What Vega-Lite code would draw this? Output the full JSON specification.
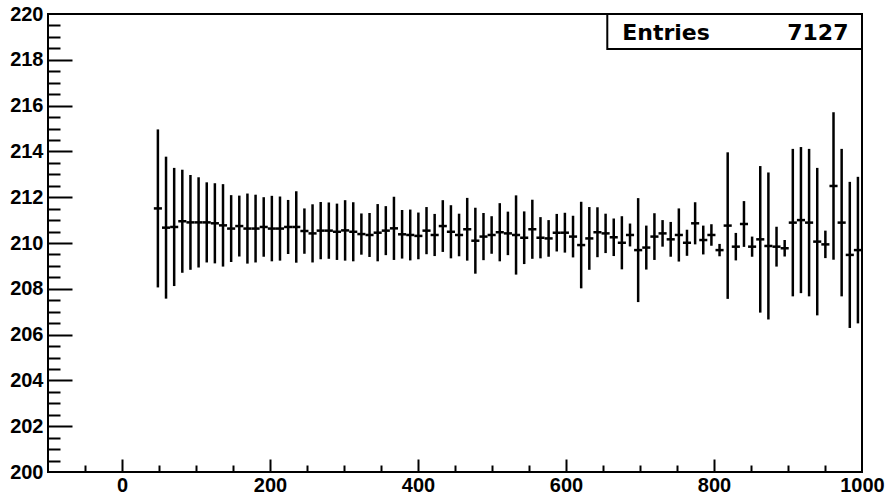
{
  "$schema": "https://vega.github.io/schema/vega-lite/v6.json",
  "width": 814,
  "height": 458,
  "autosize": {"type": "none"},
  "padding": {"left": 48, "top": 14, "right": 23, "bottom": 24},
  "background": "white",
  "config": {
    "view": {"stroke": "black", "strokeWidth": 2},
    "axis": {"grid": false, "domain": false, "labelFont": "Liberation Sans", "labelFontWeight": "bold", "labelFontSize": 20, "labelColor": "black", "tickColor": "black", "tickWidth": 2, "title": null, "format": "d"}
  },
  "data": {"values": [
    {"x": 48.5, "mean": 211.51, "err": 3.45},
    {"x": 59.5, "mean": 210.67, "err": 3.10},
    {"x": 70.5, "mean": 210.70, "err": 2.58},
    {"x": 81.5, "mean": 210.95, "err": 2.25},
    {"x": 92.5, "mean": 210.90, "err": 2.07},
    {"x": 103.5, "mean": 210.90, "err": 1.97},
    {"x": 114.5, "mean": 210.90, "err": 1.75},
    {"x": 125.5, "mean": 210.86, "err": 1.75},
    {"x": 136.5, "mean": 210.77, "err": 1.80},
    {"x": 147.5, "mean": 210.63, "err": 1.46},
    {"x": 158.5, "mean": 210.74, "err": 1.33},
    {"x": 169.5, "mean": 210.63, "err": 1.53},
    {"x": 180.5, "mean": 210.63, "err": 1.48},
    {"x": 191.5, "mean": 210.70, "err": 1.30},
    {"x": 202.5, "mean": 210.63, "err": 1.43},
    {"x": 213.5, "mean": 210.63, "err": 1.40},
    {"x": 224.5, "mean": 210.70, "err": 1.18},
    {"x": 235.5, "mean": 210.70, "err": 1.56},
    {"x": 246.5, "mean": 210.52, "err": 0.99},
    {"x": 257.5, "mean": 210.42, "err": 1.27},
    {"x": 268.5, "mean": 210.54, "err": 1.25},
    {"x": 279.5, "mean": 210.54, "err": 1.23},
    {"x": 290.5, "mean": 210.49, "err": 1.23},
    {"x": 301.5, "mean": 210.55, "err": 1.32},
    {"x": 312.5, "mean": 210.49, "err": 1.29},
    {"x": 323.5, "mean": 210.39, "err": 0.90},
    {"x": 334.5, "mean": 210.35, "err": 0.96},
    {"x": 345.5, "mean": 210.45, "err": 1.25},
    {"x": 356.5, "mean": 210.54, "err": 1.07},
    {"x": 367.5, "mean": 210.64, "err": 1.38},
    {"x": 378.5, "mean": 210.38, "err": 1.06},
    {"x": 389.5, "mean": 210.35, "err": 1.11},
    {"x": 400.5, "mean": 210.31, "err": 1.02},
    {"x": 411.5, "mean": 210.54, "err": 1.03},
    {"x": 422.5, "mean": 210.35, "err": 0.92},
    {"x": 433.5, "mean": 210.74, "err": 1.13},
    {"x": 444.5, "mean": 210.49, "err": 1.16},
    {"x": 455.5, "mean": 210.35, "err": 0.93},
    {"x": 466.5, "mean": 210.60, "err": 1.37},
    {"x": 477.5, "mean": 210.10, "err": 1.44},
    {"x": 488.5, "mean": 210.28, "err": 1.03},
    {"x": 499.5, "mean": 210.35, "err": 0.82},
    {"x": 510.5, "mean": 210.47, "err": 1.27},
    {"x": 521.5, "mean": 210.42, "err": 0.95},
    {"x": 532.5, "mean": 210.35, "err": 1.73},
    {"x": 543.5, "mean": 210.23, "err": 1.15},
    {"x": 554.5, "mean": 210.60, "err": 1.29},
    {"x": 565.5, "mean": 210.23, "err": 0.90},
    {"x": 576.5, "mean": 210.20, "err": 0.80},
    {"x": 587.5, "mean": 210.45, "err": 0.82},
    {"x": 598.5, "mean": 210.45, "err": 0.87},
    {"x": 609.5, "mean": 210.28, "err": 0.91},
    {"x": 620.5, "mean": 209.91, "err": 1.89},
    {"x": 631.5, "mean": 210.20, "err": 1.37},
    {"x": 642.5, "mean": 210.47, "err": 1.09},
    {"x": 653.5, "mean": 210.42, "err": 0.86},
    {"x": 664.5, "mean": 210.25, "err": 0.82},
    {"x": 675.5, "mean": 210.01, "err": 1.16},
    {"x": 686.5, "mean": 210.35, "err": 0.50},
    {"x": 697.5, "mean": 209.69, "err": 2.27},
    {"x": 708.5, "mean": 209.80, "err": 0.96},
    {"x": 719.5, "mean": 210.28, "err": 1.02},
    {"x": 730.5, "mean": 210.42, "err": 0.58},
    {"x": 741.5, "mean": 210.16, "err": 0.76},
    {"x": 752.5, "mean": 210.35, "err": 1.16},
    {"x": 763.5, "mean": 210.01, "err": 0.57},
    {"x": 774.5, "mean": 210.86, "err": 0.92},
    {"x": 785.5, "mean": 210.13, "err": 0.63},
    {"x": 796.5, "mean": 210.35, "err": 0.47},
    {"x": 807.5, "mean": 209.69, "err": 0.27},
    {"x": 818.5, "mean": 210.76, "err": 3.20},
    {"x": 829.5, "mean": 209.84, "err": 0.60},
    {"x": 840.5, "mean": 210.83, "err": 1.00},
    {"x": 851.5, "mean": 209.84, "err": 0.44},
    {"x": 862.5, "mean": 210.16, "err": 3.20},
    {"x": 873.5, "mean": 209.87, "err": 3.21},
    {"x": 884.5, "mean": 209.84, "err": 0.87},
    {"x": 895.5, "mean": 209.77, "err": 0.36},
    {"x": 906.5, "mean": 210.89, "err": 3.22},
    {"x": 917.5, "mean": 211.00, "err": 3.19},
    {"x": 928.5, "mean": 210.89, "err": 3.22},
    {"x": 939.5, "mean": 210.06, "err": 3.22},
    {"x": 950.5, "mean": 209.94, "err": 0.60},
    {"x": 961.5, "mean": 212.49, "err": 3.22},
    {"x": 972.5, "mean": 210.89, "err": 3.22},
    {"x": 983.5, "mean": 209.48, "err": 3.19},
    {"x": 994.5, "mean": 209.69, "err": 3.20}
  ]},
  "layer": [
    {
      "mark": {"type": "errorbar", "ticks": false, "rule": {"strokeWidth": 2.5, "color": "black"}},
      "encoding": {
        "x": {"field": "x", "type": "quantitative", "scale": {"domain": [-100, 1000], "nice": false, "zero": false},
              "axis": {"orient": "bottom", "values": [0, 200, 400, 600, 800, 1000], "ticks": false, "tickSize": 0, "labelPadding": 3, "labelFlush": false, "title": null}},
        "y": {"field": "mean", "type": "quantitative", "scale": {"domain": [200, 220], "nice": false, "zero": false},
              "axis": {"orient": "left", "values": [200, 202, 204, 206, 208, 210, 212, 214, 216, 218, 220], "ticks": false, "tickSize": 0, "labelPadding": 5, "labelFlush": false, "title": null}},
        "yError": {"field": "err"}
      }
    },
    {
      "mark": {"type": "tick", "orient": "horizontal", "size": 8.1, "thickness": 2.5, "color": "black", "opacity": 1},
      "encoding": {
        "x": {"field": "x", "type": "quantitative", "axis": {"orient": "bottom", "values": [0, 200, 400, 600, 800], "labels": false, "tickSize": -13, "title": null}},
        "y": {"field": "mean", "type": "quantitative", "axis": {"orient": "left", "values": [202, 204, 206, 208, 210, 212, 214, 216, 218], "labels": false, "tickSize": -24, "title": null}}
      }
    },
    {
      "data": {"values": [{}]},
      "mark": {"type": "rect", "fill": "white", "stroke": "black", "strokeWidth": 2},
      "encoding": {
        "x": {"datum": 655.8, "type": "quantitative", "axis": {"orient": "bottom", "values": [-50, 50, 100, 150, 250, 300, 350, 450, 500, 550, 650, 700, 750, 850, 900, 950], "labels": false, "tickSize": -7, "title": null}},
        "x2": {"datum": 1000},
        "y": {"datum": 218.47, "type": "quantitative", "axis": {"orient": "left", "values": [200.5, 201, 201.5, 202.5, 203, 203.5, 204.5, 205, 205.5, 206.5, 207, 207.5, 208.5, 209, 209.5, 210.5, 211, 211.5, 212.5, 213, 213.5, 214.5, 215, 215.5, 216.5, 217, 217.5, 218.5, 219, 219.5], "labels": false, "tickSize": -12, "title": null}},
        "y2": {"datum": 220}
      }
    },
    {
      "data": {"values": [{}]},
      "mark": {"type": "text", "text": "Entries", "align": "left", "baseline": "middle", "font": "DejaVu Sans", "fontWeight": "bold", "fontSize": 22, "color": "black"},
      "encoding": {
        "x": {"datum": 676, "type": "quantitative", "axis": null},
        "y": {"datum": 219.19, "type": "quantitative", "axis": null}
      }
    },
    {
      "data": {"values": [{}]},
      "mark": {"type": "text", "text": "7127", "align": "right", "baseline": "middle", "font": "DejaVu Sans", "fontWeight": "bold", "fontSize": 22, "color": "black"},
      "encoding": {
        "x": {"datum": 981.7, "type": "quantitative", "axis": null},
        "y": {"datum": 219.19, "type": "quantitative", "axis": null}
      }
    }
  ],
  "resolve": {"axis": {"x": "independent", "y": "independent"}}
}
